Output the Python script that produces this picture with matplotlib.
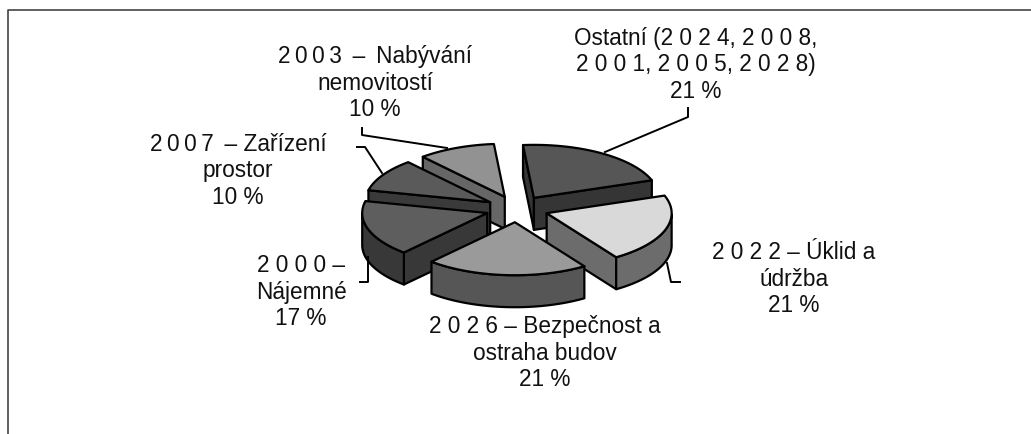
import numpy as np
import matplotlib
matplotlib.use('Agg')
import matplotlib.pyplot as plt
from matplotlib.patches import Polygon

labels = ['Ostatní (2 0 2 4, 2 0 0 8,\n2 0 0 1, 2 0 0 5, 2 0 2 8)\n21 %',
          '2 0 2 2 – Úklid a\núdržba\n21 %',
          '2 0 2 6 – Bezpečnost a\nostraha budov\n21 %',
          '2 0 0 0 –\nNájemné\n17 %',
          '2\u20090\u20090\u20097\u2009 – Zařízení\nprostor\n10 %',
          '2\u20090\u20090\u20093\u2009 –\u2009 Nabývání\nnemovitostí\n10 %']
shares = [21, 21, 21, 17, 10, 10]
top_colors = ['#565656', '#d9d9d9', '#9a9a9a', '#5e5e5e', '#5a5a5a', '#929292']
side_colors = ['#353535', '#6c6c6c', '#565656', '#383838', '#3a3a3a', '#666666']
label_pos = [(696, 65), (794, 279), (545, 353), (301, 292), (238, 171), (375, 83)]
leaders = [[(605, 152), (688, 117), (688, 108)],
           [(667, 263), (671, 282), (680, 282)],
           [(368, 257), (368, 282), (360, 282)],
           [(382, 173), (365, 147), (357, 147)],
           [(447, 148), (362, 135), (362, 128)]]

cx, cy = 517, 209
a, b = 125, 53
depth = 32
explode = 0.25
start = 95

fig = plt.figure(figsize=(10.31, 4.34), dpi=100)
ax = fig.add_axes([0, 0, 1, 1])
ax.set_xlim(0, 1031)
ax.set_ylim(434, 0)
ax.axis('off')

# frame, open at the bottom and right
ax.plot([8, 8, 1031], [434, 10, 10], color='#444444', lw=1.2)

spans = np.array(shares) / sum(shares) * 360
ends = start - np.cumsum(spans)
starts = ends + spans


def draw_slice(i):
    mid = np.radians((starts[i] + ends[i]) / 2)
    x0 = cx + explode * a * np.cos(mid)
    y0 = cy - explode * b * np.sin(mid)
    t = np.radians(np.linspace(starts[i], ends[i], 60))
    xs = x0 + a * np.cos(t)
    ys = y0 - b * np.sin(t)
    edge = dict(edgecolor='black', lw=1.6, joinstyle='round')
    # only the cut faces turned to the viewer
    if np.cos(t[0]) < 0:
        ax.add_patch(Polygon([(x0, y0), (xs[0], ys[0]), (xs[0], ys[0] + depth), (x0, y0 + depth)],
                             facecolor=side_colors[i], **edge))
    if np.cos(t[-1]) > 0:
        ax.add_patch(Polygon([(x0, y0), (xs[-1], ys[-1]), (xs[-1], ys[-1] + depth), (x0, y0 + depth)],
                             facecolor=side_colors[i], **edge))
    # rim, front part of the arc only
    front = np.sin(t) <= 0
    if front.sum() > 1:
        rim = np.r_[np.c_[xs[front], ys[front]], np.c_[xs[front], ys[front] + depth][::-1]]
        ax.add_patch(Polygon(rim, facecolor=side_colors[i], **edge))
    top = np.r_[[(x0, y0)], np.c_[xs, ys]]
    ax.add_patch(Polygon(top, facecolor=top_colors[i], **edge))


for line in leaders:
    pts = np.array(line)
    ax.plot(pts[:, 0], pts[:, 1], color='black', lw=1.4)

# back to front
for i in [5, 0, 4, 3, 1, 2]:
    draw_slice(i)

for text, (x, y) in zip(labels, label_pos):
    ax.text(x, y, text, ha='center', va='center', multialignment='center',
            fontsize=16.3, family='Liberation Sans', color='#111111', linespacing=1.17)

fig.savefig('out.png', dpi=100)
